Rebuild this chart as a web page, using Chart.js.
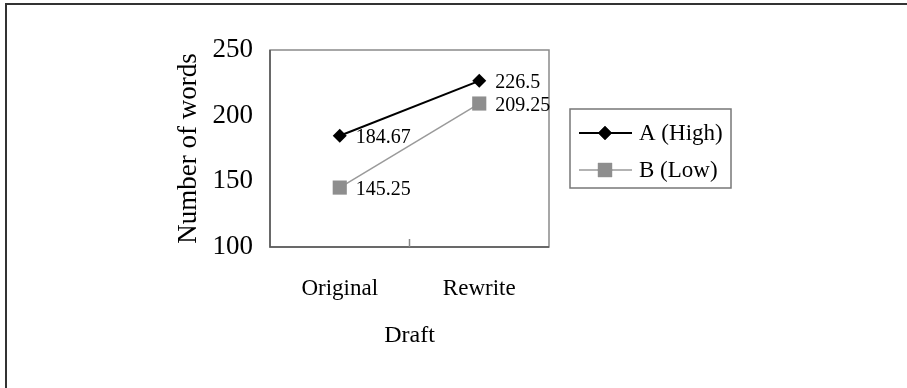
<!DOCTYPE html>
<html>
<head>
<meta charset="UTF-8">
<title>Number of words by draft</title>
<script src="https://cdn.jsdelivr.net/npm/chart.js@4.4.1/dist/chart.umd.min.js"></script>
<style>
  html, body { margin: 0; padding: 0; background: #fff; }
  #wrap { width: 907px; height: 388px; }
</style>
</head>
<body>
<div id="wrap"><canvas id="draftChart" width="907" height="388"></canvas></div>
<script>
// data
const drafts = ['Original', 'Rewrite'];
const highGroup = [184.67, 226.5];
const lowGroup = [145.25, 209.25];
const yTicks = [100, 150, 200, 250];

const serif = '"Liberation Serif", "Times New Roman", serif';

// frame, middle tick, point labels and the boxed legend
const extras = {
  id: 'extras',
  afterDraw(chart) {
    const ctx = chart.ctx;
    const area = chart.chartArea;
    const xs = chart.scales.x;
    ctx.save();

    // outer figure border (only left and top show)
    ctx.strokeStyle = '#333';
    ctx.lineWidth = 2;
    ctx.beginPath();
    ctx.moveTo(6, 388);
    ctx.lineTo(6, 4);
    ctx.lineTo(907, 4);
    ctx.stroke();

    // plot frame
    ctx.strokeStyle = '#8a8a8a';
    ctx.lineWidth = 1.5;
    ctx.strokeRect(area.left, area.top, area.right - area.left, area.bottom - area.top);
    ctx.strokeStyle = '#555';
    ctx.beginPath();
    ctx.moveTo(area.left, area.top);
    ctx.lineTo(area.left, area.bottom);
    ctx.lineTo(area.right, area.bottom);
    ctx.stroke();

    // tick between the two categories
    const mid = (xs.getPixelForTick(0) + xs.getPixelForTick(1)) / 2;
    ctx.strokeStyle = '#888';
    ctx.beginPath();
    ctx.moveTo(mid, area.bottom);
    ctx.lineTo(mid, area.bottom - 8);
    ctx.stroke();

    // value labels next to the points
    ctx.fillStyle = '#000';
    ctx.font = '20px ' + serif;
    ctx.textAlign = 'left';
    ctx.textBaseline = 'middle';
    chart.data.datasets.forEach((ds, i) => {
      chart.getDatasetMeta(i).data.forEach((pt, j) => {
        ctx.fillText(String(ds.data[j]), pt.x + 16, pt.y + 2);
      });
    });

    // legend box
    const lx = 570, ly = 109, lw = 161, lh = 79;
    ctx.strokeStyle = '#777';
    ctx.lineWidth = 1.5;
    ctx.strokeRect(lx, ly, lw, lh);
    ctx.font = '23px ' + serif;
    chart.data.datasets.forEach((ds, i) => {
      const cy = 133 + i * 37;
      ctx.strokeStyle = ds.borderColor;
      ctx.lineWidth = ds.borderWidth;
      ctx.beginPath();
      ctx.moveTo(579, cy);
      ctx.lineTo(632, cy);
      ctx.stroke();
      Chart.helpers.drawPoint(ctx, {
        pointStyle: ds.pointStyle,
        radius: ds.pointRadius,
        borderWidth: 0
      }, 605, cy);
      ctx.fillStyle = ds.pointBackgroundColor;
      ctx.fill();
      ctx.fillStyle = '#000';
      ctx.fillText(ds.label, 639, cy + 1);
    });
    ctx.restore();
  }
};

new Chart(document.getElementById('draftChart'), {
  type: 'line',
  data: {
    labels: drafts,
    datasets: [
      {
        label: 'A (High)',
        data: highGroup,
        borderColor: '#000',
        borderWidth: 2,
        pointStyle: 'rectRot',
        pointRadius: 7,
        pointBackgroundColor: '#000',
        pointBorderColor: '#000',
        pointBorderWidth: 0,
        tension: 0
      },
      {
        label: 'B (Low)',
        data: lowGroup,
        borderColor: '#9a9a9a',
        borderWidth: 1.5,
        pointStyle: 'rect',
        pointRadius: 10,
        pointBackgroundColor: '#8e8e8e',
        pointBorderColor: '#8e8e8e',
        pointBorderWidth: 0,
        tension: 0
      }
    ]
  },
  options: {
    responsive: false,
    animation: false,
    layout: { padding: { left: 164, right: 358, top: 50, bottom: 30 } },
    plugins: {
      legend: { display: false },
      tooltip: { enabled: false }
    },
    scales: {
      x: {
        offset: true,
        grid: { display: false, drawTicks: false },
        border: { display: false },
        ticks: {
          color: '#000',
          padding: 28,
          font: { family: serif, size: 23 }
        },
        title: {
          display: true,
          text: 'Draft',
          color: '#000',
          font: { family: serif, size: 24 },
          padding: { top: 0, bottom: 8 }
        },
        afterFit(scale) { scale.height = 111; }
      },
      y: {
        min: 100,
        max: 250,
        afterBuildTicks(scale) { scale.ticks = yTicks.map(v => ({ value: v })); },
        grid: { display: false, drawTicks: false },
        border: { display: false },
        ticks: {
          color: '#000',
          padding: 17,
          font: { family: serif, size: 27 }
        },
        title: {
          display: true,
          text: 'Number of words',
          color: '#000',
          font: { family: serif, size: 27 },
          padding: { top: 9, bottom: 0 }
        },
        afterFit(scale) { scale.width = 106; }
      }
    }
  },
  plugins: [extras]
});
</script>
</body>
</html>
